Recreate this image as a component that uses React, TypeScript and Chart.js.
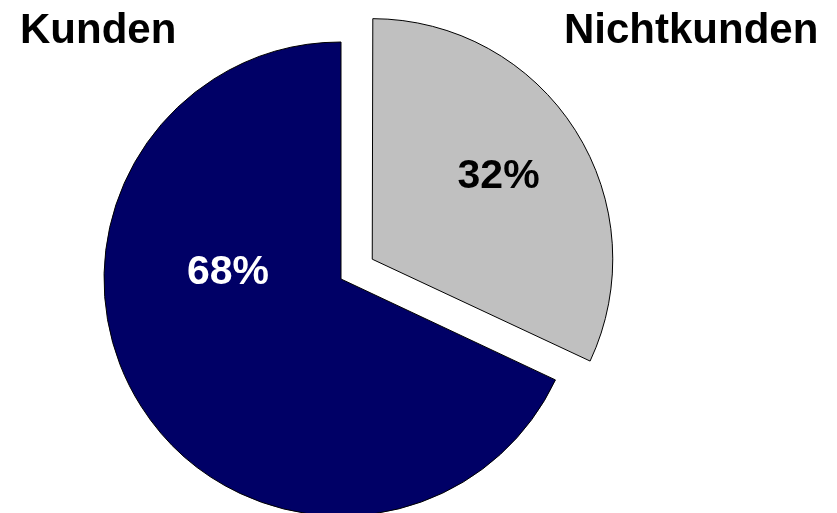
import React, { useEffect, useRef } from "react";
import { Chart, registerables } from "chart.js";

Chart.register(...registerables);

const categories = ["Nichtkunden", "Kunden"];
const shares = [32, 68];
const percentLabels = ["32%", "68%"];
const sliceColors = ["#C0C0C0", "#000066"];
const percentColors = ["#000000", "#FFFFFF"];
const sliceOffsets = [148, 0];

// label anchor positions as fractions of radius, relative to each slice's vertex
const LABEL_POS = [
  { fx: 0.533, fy: -0.347 },
  { fx: -0.477, fy: -0.027 },
];

const FONT = "'Liberation Sans', Arial, Helvetica, sans-serif";

const labelPlugin = {
  id: "sliceLabels",
  afterDatasetsDraw(chart: any) {
    const { ctx } = chart;
    const meta = chart.getDatasetMeta(0);
    ctx.save();
    meta.data.forEach((arc: any, i: number) => {
      const off = (sliceOffsets[i] || 0) / 4;
      const half = (arc.startAngle + arc.endAngle) / 2;
      const cx = arc.x + Math.cos(half) * off;
      const cy = arc.y + Math.sin(half) * off;
      const r = arc.outerRadius;
      const p = LABEL_POS[i];
      ctx.font = `bold 41px ${FONT}`;
      ctx.fillStyle = percentColors[i];
      ctx.textAlign = "center";
      ctx.textBaseline = "middle";
      ctx.fillText(percentLabels[i], cx + p.fx * r, cy + p.fy * r);
    });
    // category headers
    ctx.font = `bold 42px ${FONT}`;
    ctx.fillStyle = "#000000";
    ctx.textAlign = "left";
    ctx.textBaseline = "alphabetic";
    ctx.fillText(categories[1], 20, 43);
    ctx.fillText(categories[0], 564, 43);
    ctx.restore();
  },
};

export default function App() {
  const ref = useRef<HTMLCanvasElement>(null);
  useEffect(() => {
    if (!ref.current) return;
    const chart = new Chart(ref.current, {
      type: "pie",
      data: {
        labels: categories,
        datasets: [
          {
            data: shares,
            backgroundColor: sliceColors,
            borderColor: "#000000",
            borderWidth: 1,
            offset: sliceOffsets,
            hoverOffset: 0,
            radius: 237,
            clip: false,
          } as any,
        ],
      },
      options: {
        responsive: false,
        animation: false,
        rotation: 0,
        layout: { padding: { left: 0, right: 155, top: 45, bottom: 0 } },
        plugins: {
          legend: { display: false },
          tooltip: { enabled: false },
        },
        events: [],
      },
      plugins: [labelPlugin],
    });
    return () => chart.destroy();
  }, []);
  return (
    <div style={{ position: "absolute", left: 0, top: 0, width: 837, height: 513, background: "#fff" }}>
      <canvas ref={ref} width={837} height={513} />
    </div>
  );
}
